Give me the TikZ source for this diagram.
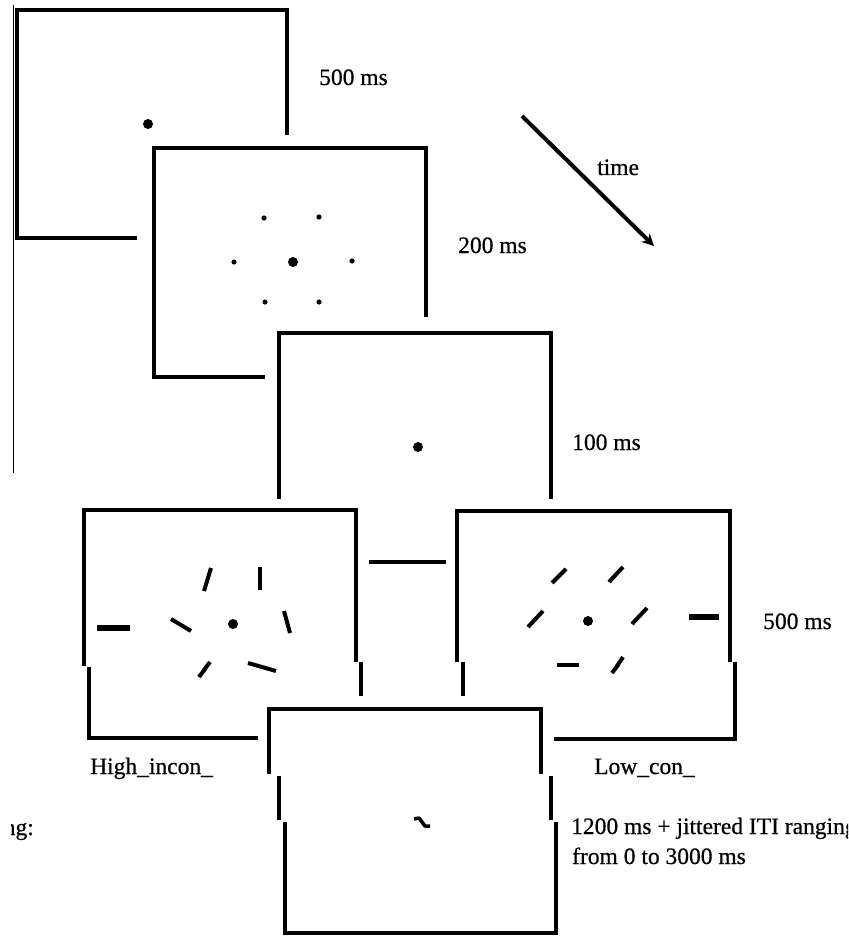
\documentclass[tikz,border=0pt]{standalone}
\usepackage{fontspec}
\setmainfont{Liberation Serif}
\newfontfamily\lblfont{Liberation Serif}[FakeBold=0.6]
\usetikzlibrary{arrows.meta}
\begin{document}
\begin{tikzpicture}[x=1pt,y=-1pt,
  frame/.style={line width=4pt, line join=miter},
  bar/.style={line width=4pt},
  thickbar/.style={line width=5.5pt},
  lbl/.style={font=\lblfont\fontsize{23.5}{27}\selectfont, inner sep=0pt, anchor=base west}]
\useasboundingbox (0,0) rectangle (848,936);
\clip (0,0) rectangle (848,936);

% thin line at the left edge
\draw[line width=1pt] (13.5,5) -- (13.5,473);

% panel 1 (fixation, 500 ms)
\draw[frame] (137,238) -- (17,238) -- (17,10) -- (287,10) -- (287,135);
\fill (148,124) circle (5);
\node[lbl] (t500a) at (319,85) {500 ms};

% panel 2 (placeholders, 200 ms)
\draw[frame] (265,377) -- (154,377) -- (154,148) -- (426,148) -- (426,317);
\fill (293,262) circle (5);
\foreach \p in {(264,218),(319,217),(234,262),(352,261),(265,302),(319,302)}
  \fill \p circle (2.6);
\node[lbl] (t200) at (458,253) {200 ms};

% panel 3 (fixation, 100 ms)
\draw[frame] (279,499) -- (279,333) -- (551,333) -- (551,499);
\fill (418,447) circle (5);
\node[lbl] (t100) at (572,450) {100 ms};

% time arrow
\coordinate (ta) at (522,116);
\coordinate (tb) at (654,246);
\draw[line width=4pt, -{Stealth[length=12pt,width=12pt]}] (ta) -- (tb);
\node[lbl] (ttime) at (597,175) {time};

% high incongruent panel
\draw[frame] (84,666) -- (84,510) -- (356,510) -- (356,662);
\draw[frame] (89,667) -- (89,738) -- (258,738);
\draw[frame] (361,662) -- (361,696);
\draw[thickbar] (97,628) -- (130,628);
\draw[bar] (211,568) -- (204,591);
\draw[bar] (260,567) -- (260,590);
\draw[bar] (171,619) -- (191,631);
\fill (233,624) circle (5);
\draw[bar] (284,611) -- (290,633);
\draw[bar] (199,677) -- (205,669);
\draw[bar] (204,670) -- (210,662);
\draw[bar] (248,663) -- (276,671);
\node[lbl] (thigh) at (90,774) {High\_incon\_};

% connector between the two flanker panels
\coordinate (ca) at (369,562);
\coordinate (cb) at (446,562);
\draw[frame] (ca) -- (cb);

% low congruent panel
\draw[frame] (457,662) -- (457,511) -- (730,511) -- (730,662);
\draw[frame] (463,662) -- (463,696);
\draw[frame] (735,662) -- (735,739) -- (554,739);
\draw[bar] (552,583) -- (566,569);
\draw[bar] (609,582) -- (623,567);
\draw[bar] (528,627) -- (543,611);
\fill (588,621) circle (5);
\draw[bar] (632,624) -- (647,608);
\draw[thickbar] (689,617) -- (719,617);
\draw[bar] (557,665) -- (579,665);
\draw[bar] (612,673) -- (618,665);
\draw[bar] (617,666) -- (623,657);
\node[lbl] (t500b) at (763,629) {500 ms};
\node[lbl] (tlow) at (594,774) {Low\_con\_};

% bottom panel (feedback / ITI)
\draw[frame] (269,774) -- (269,709) -- (541,709) -- (541,774);
\draw[frame] (279,776) -- (279,820);
\draw[frame] (551,776) -- (551,820);
\draw[frame] (285,822) -- (285,933) -- (556,933) -- (556,822);
\draw[line width=3.5pt, line join=round] (414,819) -- (419,818) -- (425,826) -- (430,826);
\node[lbl] (titi) at (571,834) {1200 ms + jittered ITI ranging};
\node[lbl] (trange) at (572,864) {from 0 to 3000 ms};

% cut-off text at the left edge
\begin{scope}
  \clip (11,790) rectangle (60,860);
  \node[lbl, anchor=base east] (tng) at (34,835) {ng:};
\end{scope}
\end{tikzpicture}
\end{document}
